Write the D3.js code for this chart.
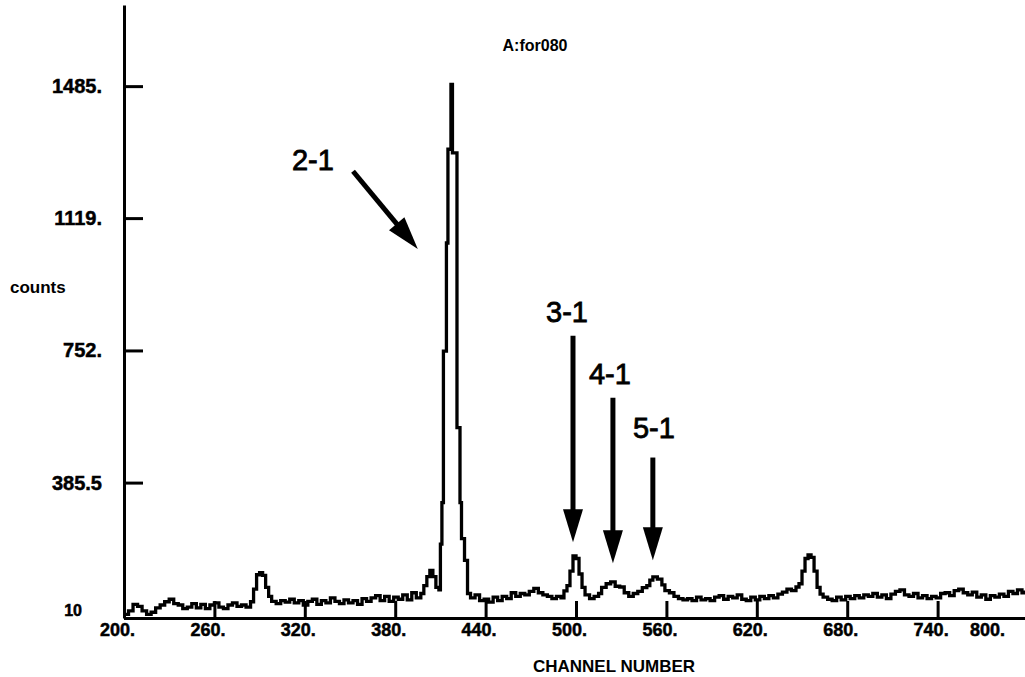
<!DOCTYPE html>
<html>
<head>
<meta charset="utf-8">
<script src="https://cdn.jsdelivr.net/npm/d3@7/dist/d3.min.js"></script>
<style>
  html, body { margin: 0; padding: 0; background: #fff; }
  svg { display: block; }
</style>
</head>
<body>
<svg id="chart" width="1025" height="677"></svg>
<script>
// Pulse-height spectrum: channel start of each step and its counts
const channels = [
  200, 203, 206, 209, 212, 215, 218, 221, 224, 227,
  230, 233, 236, 239, 242, 245, 248, 251, 254, 257,
  260, 263, 266, 269, 272, 275, 278, 281, 284, 286,
  288, 290, 292, 294, 296, 298, 301, 304, 307, 310,
  313, 316, 319, 322, 325, 328, 331, 334, 337, 340,
  343, 346, 349, 352, 355, 358, 361, 364, 367, 370,
  373, 376, 379, 382, 385, 388, 391, 394, 397, 399,
  401, 403, 405, 407, 409, 410, 411, 412, 414, 415,
  417, 418, 421, 423, 424, 426, 428, 430, 433, 436,
  439, 442, 445, 448, 451, 454, 457, 460, 463, 466,
  469, 472, 475, 478, 481, 484, 487, 490, 492, 494,
  496, 498, 500, 502, 504, 506, 509, 512, 515, 517,
  520, 523, 526, 529, 532, 535, 538, 541, 544, 547,
  549, 551, 554, 557, 559, 562, 565, 568, 571, 574,
  577, 580, 583, 586, 589, 592, 595, 598, 601, 604,
  607, 610, 613, 616, 619, 622, 625, 628, 631, 634,
  637, 640, 643, 646, 648, 650, 652, 654, 656, 658,
  660, 662, 664, 667, 670, 673, 676, 679, 682, 685,
  688, 691, 694, 697, 700, 703, 706, 709, 712, 715,
  718, 721, 724, 727, 730, 733, 736, 739, 742, 745,
  748, 751, 754, 757, 760, 763, 766, 769, 772, 775,
  778, 781, 784, 787, 790, 793, 796, 798
];
const counts = [
  20, 30, 48, 42, 30, 20, 26, 38, 46, 55,
  62, 50, 46, 36, 40, 50, 38, 48, 36, 46,
  52, 40, 36, 46, 52, 42, 46, 40, 55, 90,
  130, 136, 128, 95, 70, 56, 50, 58, 54, 62,
  52, 58, 46, 56, 62, 48, 58, 52, 66, 56,
  50, 60, 52, 58, 48, 64, 56, 66, 72, 58,
  70, 56, 68, 62, 74, 60, 80, 66, 78, 100,
  125, 142, 125, 95, 88, 215, 330, 750, 1050, 1310,
  1490, 1300, 538, 330, 230, 170, 78, 66, 74, 58,
  62, 54, 68, 58, 70, 64, 80, 70, 78, 74,
  84, 92, 80, 74, 70, 64, 70, 66, 85, 100,
  140, 182, 175, 132, 95, 74, 64, 70, 78, 95,
  105, 110, 98, 96, 80, 70, 78, 84, 94, 100,
  115, 124, 118, 102, 86, 80, 70, 64, 60, 64,
  58, 68, 60, 64, 58, 68, 72, 62, 70, 66,
  74, 62, 58, 68, 60, 70, 64, 72, 66, 76,
  82, 90, 86, 96, 105, 140, 175, 185, 178, 140,
  95, 76, 68, 62, 58, 68, 60, 70, 64, 72,
  66, 74, 70, 78, 68, 74, 64, 76, 84, 88,
  74, 70, 78, 66, 72, 64, 70, 66, 78, 80,
  72, 86, 90, 80, 74, 82, 68, 74, 62, 72,
  68, 76, 70, 84, 78, 88, 80, 86
];

// Axis ticks and their printed labels
const yTickValues = [10, 385.5, 752, 1119, 1485];
const yTickLabels = ["10", "385.5", "752.", "1119.", "1485."];
const xTickValues = [200, 260, 320, 380, 440, 500, 560, 620, 680, 740, 800];
const xTickLabels = ["200.", "260.", "320.", "380.", "440.", "500.", "560.", "620.", "680.", "740.", "800."];

// Transition arrows: label, arrow tail, arrow tip and label anchor (channel, counts)
const arrowLabels = ["2-1", "3-1", "4-1", "5-1"];
const arrowTails  = [[352, 1249], [498, 793], [524.5, 621], [551, 455]];
const arrowTips   = [[395, 1033], [498, 220], [524.5, 162], [551, 170]];
const labelAnchors = [[311.5, 1252], [494, 831], [522.5, 659], [551.7, 509]];

const title = "A:for080";
const xTitle = "CHANNEL NUMBER";
const yTitle = "counts";

const svg = d3.select("#chart");
const W = 1025, H = 677;

const x = d3.scaleLinear().domain([200, 798]).range([124, 1025]);
const y = d3.scaleLinear().domain([10, 1710]).range([618, 5]);

const ink = "#000";
const axisFont = "'Liberation Sans', Arial, sans-serif";

// Spectrum trace
svg.append("defs").append("clipPath").attr("id", "plot")
  .append("rect").attr("x", 124).attr("y", 0).attr("width", W - 124).attr("height", 618);

const data = channels.map((c, i) => [c, counts[i]]);
const line = d3.line()
  .x(d => x(d[0]))
  .y(d => y(d[1]))
  .curve(d3.curveStepAfter);

svg.append("path")
  .datum(data)
  .attr("clip-path", "url(#plot)")
  .attr("fill", "none")
  .attr("stroke", ink)
  .attr("stroke-width", 3.3)
  .attr("stroke-linejoin", "miter")
  .attr("d", line);

// Y axis: ticks point into the plot, labels on the left
const yAxis = d3.axisLeft(y)
  .tickValues(yTickValues)
  .tickFormat((d, i) => yTickLabels[i])
  .tickSize(-19)
  .tickSizeOuter(0)
  .tickPadding(22);

const gy = svg.append("g").attr("transform", "translate(124,0)").call(yAxis);
gy.select(".domain").attr("stroke", ink).attr("stroke-width", 3);
gy.selectAll(".tick line").attr("stroke", ink).attr("stroke-width", 3);
gy.selectAll(".tick text")
  .attr("fill", ink)
  .attr("stroke", ink)
  .attr("stroke-width", 0.5)
  .attr("font-family", axisFont)
  .attr("font-weight", "bold")
  .attr("font-size", 20);
// lowest label sits a little above the baseline and further left
gy.selectAll(".tick").filter(d => d === 10).select("text")
  .attr("x", -42)
  .attr("dy", "-0.15em")
  .attr("font-size", 16);

// X axis: ticks point up into the plot
const xAxis = d3.axisBottom(x)
  .tickValues(xTickValues)
  .tickFormat((d, i) => xTickLabels[i])
  .tickSize(-17)
  .tickSizeOuter(0)
  .tickPadding(5);

const gx = svg.append("g").attr("transform", "translate(0,618)").call(xAxis);
gx.select(".domain").attr("stroke", ink).attr("stroke-width", 3);
gx.selectAll(".tick line").attr("stroke", ink).attr("stroke-width", 3);
gx.selectAll(".tick text")
  .attr("fill", ink)
  .attr("stroke", ink)
  .attr("stroke-width", 0.5)
  .attr("font-family", axisFont)
  .attr("font-weight", "bold")
  .attr("font-size", 18)
  .attr("dx", -7);
// the last label is pulled back inside the frame
gx.selectAll(".tick").filter(d => x(d) > W - 40).select("text")
  .attr("dx", d => (W - 38) - x(d));

// Titles
svg.append("text")
  .attr("x", 535).attr("y", 51)
  .attr("text-anchor", "middle")
  .attr("font-family", axisFont)
  .attr("font-weight", "bold")
  .attr("font-size", 16)
  .attr("fill", ink)
  .text(title);

svg.append("text")
  .attr("x", 614).attr("y", 672)
  .attr("text-anchor", "middle")
  .attr("font-family", axisFont)
  .attr("font-weight", "bold")
  .attr("font-size", 17)
  .attr("fill", ink)
  .text(xTitle);

svg.append("text")
  .attr("x", 10).attr("y", 293)
  .attr("font-family", axisFont)
  .attr("font-weight", "bold")
  .attr("font-size", 17)
  .attr("fill", ink)
  .text(yTitle);

// Arrows marking the transitions
const headLen = 33, headHalf = 10, shaft = 5;
const arrows = svg.append("g");
arrowLabels.forEach((lab, i) => {
  const x0 = x(arrowTails[i][0]), y0 = y(arrowTails[i][1]);
  const x1 = x(arrowTips[i][0]),  y1 = y(arrowTips[i][1]);
  const len = Math.hypot(x1 - x0, y1 - y0);
  const ux = (x1 - x0) / len, uy = (y1 - y0) / len;
  const bx = x1 - ux * headLen, by = y1 - uy * headLen;
  arrows.append("line")
    .attr("x1", x0).attr("y1", y0)
    .attr("x2", bx + ux * 2).attr("y2", by + uy * 2)
    .attr("stroke", ink).attr("stroke-width", shaft);
  arrows.append("polygon")
    .attr("points", [
      [x1, y1],
      [bx - uy * headHalf, by + ux * headHalf],
      [bx + uy * headHalf, by - ux * headHalf]
    ].map(p => p.join(",")).join(" "))
    .attr("fill", ink);
  arrows.append("text")
    .attr("x", x(labelAnchors[i][0]))
    .attr("y", y(labelAnchors[i][1]))
    .attr("text-anchor", i === 0 ? "start" : "middle")
    .attr("font-family", axisFont)
    .attr("font-size", 29)
    .attr("fill", ink)
    .attr("stroke", ink)
    .attr("stroke-width", 0.8)
    .text(lab);
});
</script>
</body>
</html>
